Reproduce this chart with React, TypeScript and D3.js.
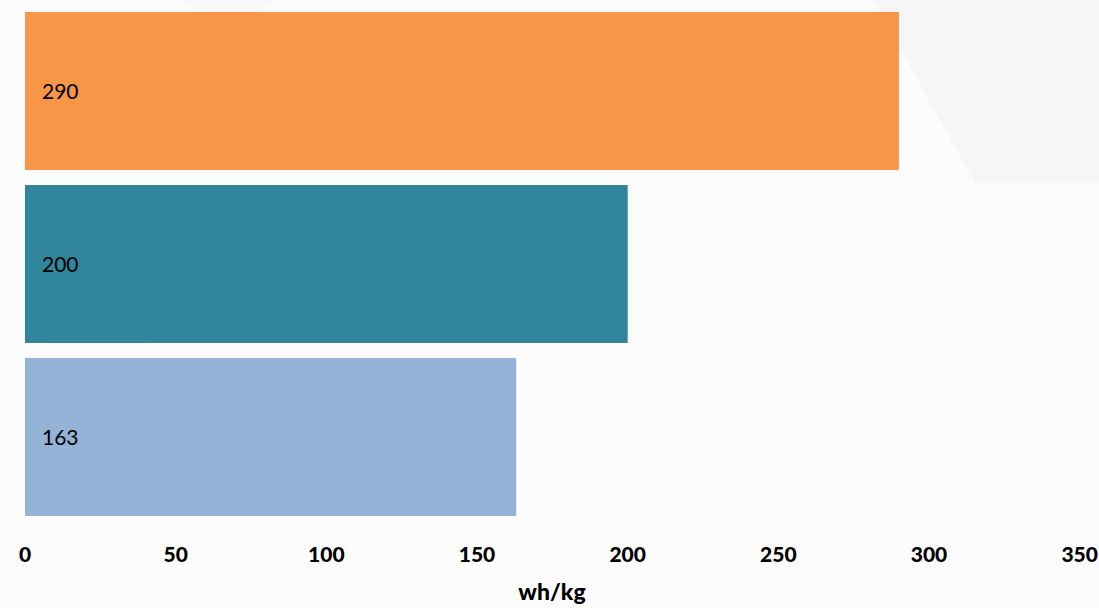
import React from "react";
import * as d3 from "d3";

const categories = ["A", "B", "C"];
const values = [290, 200, 163];
const colors = ["#F79646", "#31859C", "#95B3D7"];
const xTicks = [0, 50, 100, 150, 200, 250, 300, 350];
const axisLabel = "wh/kg";

const W = 1099;
const H = 608;

export default function App() {
  const x = d3.scaleLinear().domain([0, 350]).range([25, 1079.7]);
  const y = d3
    .scaleBand<string>()
    .domain(categories)
    .range([4.5, 523.5])
    .paddingInner(15 / 173)
    .paddingOuter(15 / 173 / 2);
  const font = "Lato, 'Open Sans', sans-serif";
  return (
    <svg
      width={W}
      height={H}
      style={{ position: "absolute", left: 0, top: 0, display: "block" }}
    >
      <rect x={0} y={0} width={W} height={H} fill="#FCFCFC" />
      {/* faint decorative background shapes */}
      <path d="M873,0 L1099,0 L1099,183 L975,183 Z" fill="#F6F6F6" />
      <path d="M180,0 L275,0 L230,30 Z" fill="#F8F8F8" />
      <path d="M0,400 L60,330 L150,330 L150,470 L0,470 Z" fill="#F9F9F9" opacity={0.5} />
      <path d="M870,360 L940,340 L1099,360 L1099,608 L900,608 L840,470 Z" fill="#F9F9F9" opacity={0.5} />
      {categories.map((c, i) => (
        <g key={c}>
          <rect
            x={x(0)}
            y={y(c)}
            width={x(values[i]) - x(0)}
            height={y.bandwidth()}
            fill={colors[i]}
          />
          <text
            x={x(0) + 17}
            y={(y(c) as number) + y.bandwidth() / 2}
            dy="0.36em"
            fontFamily={font}
            fontSize={21}
            fill="#000"
          >
            {values[i]}
          </text>
        </g>
      ))}
      {xTicks.map((t) => (
        <text
          key={t}
          x={x(t)}
          y={562}
          textAnchor="middle"
          fontFamily={font}
          fontWeight={900}
          fontSize={21}
          fill="#000"
        >
          {t}
        </text>
      ))}
      <text
        x={552}
        y={600}
        textAnchor="middle"
        fontFamily={font}
        fontWeight={900}
        fontSize={23}
        fill="#000"
      >
        {axisLabel}
      </text>
    </svg>
  );
}
